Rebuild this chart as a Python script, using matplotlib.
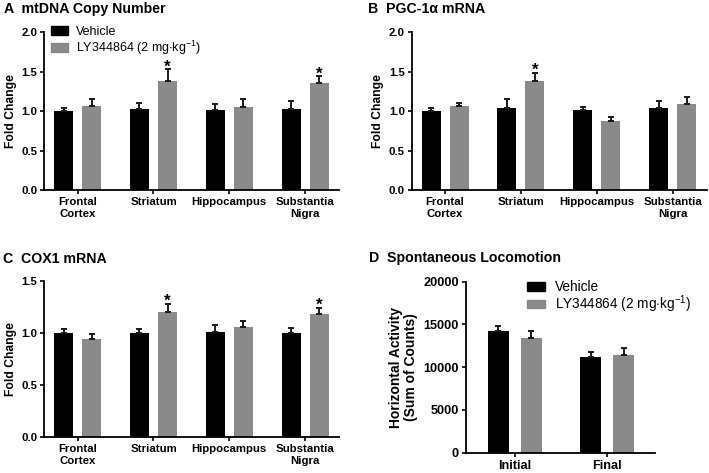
import numpy as np
import matplotlib
matplotlib.use("Agg")
import matplotlib.pyplot as plt
from matplotlib.patches import Patch

plt.rcParams['font.family'] = ['Liberation Sans', 'DejaVu Sans']
plt.rcParams['mathtext.fontset'] = 'custom'
plt.rcParams['mathtext.rm'] = 'Liberation Sans'
plt.rcParams['mathtext.it'] = 'Liberation Sans:italic'
plt.rcParams['mathtext.bf'] = 'Liberation Sans:bold'

# data
regions = ["Frontal\nCortex", "Striatum", "Hippocampus", "Substantia\nNigra"]

mtdna_veh = [1.00, 1.03, 1.015, 1.03]
mtdna_veh_err = [0.045, 0.07, 0.075, 0.095]
mtdna_ly = [1.07, 1.38, 1.05, 1.36]
mtdna_ly_err = [0.09, 0.15, 0.11, 0.08]
mtdna_sig = [False, True, False, True]

pgc_veh = [1.00, 1.035, 1.015, 1.035]
pgc_veh_err = [0.035, 0.115, 0.04, 0.10]
pgc_ly = [1.06, 1.38, 0.88, 1.09]
pgc_ly_err = [0.04, 0.105, 0.05, 0.095]
pgc_sig = [False, True, False, False]

cox_veh = [1.00, 1.00, 1.015, 1.005]
cox_veh_err = [0.035, 0.035, 0.06, 0.045]
cox_ly = [0.94, 1.20, 1.055, 1.185]
cox_ly_err = [0.05, 0.08, 0.06, 0.06]
cox_sig = [False, True, False, True]

sessions = ["Initial", "Final"]
loco_veh = [14200, 11230]
loco_veh_err = [620, 510]
loco_ly = [13450, 11380]
loco_ly_err = [820, 820]

VEH_COLOR = 'black'
LY_COLOR = '#8a8a8a'
ly_label = r"LY344864 (2 mg$\cdot$kg$^{-1}$)"

fig = plt.figure(figsize=(7.09, 4.73), dpi=100)


def style_axis(ax, tick_size):
    for s in ['top', 'right']:
        ax.spines[s].set_visible(False)
    for s in ['left', 'bottom']:
        ax.spines[s].set_linewidth(1.3)
    ax.tick_params(axis='both', direction='out', length=3, width=1.2, pad=2)
    for lab in ax.get_xticklabels() + ax.get_yticklabels():
        lab.set_fontweight('bold')
        lab.set_fontsize(tick_size)


def draw_pairs(ax, veh, veh_err, ly, ly_err, width, off):
    x = np.arange(len(veh))
    ekw = dict(ecolor='#1a1a1a', elinewidth=1.4, capsize=2.2, capthick=1.4)
    ax.bar(x - off, veh, width, color=VEH_COLOR,
           yerr=[np.zeros(len(veh)), veh_err], error_kw=ekw)
    ax.bar(x + off, ly, width, color=LY_COLOR,
           yerr=[np.zeros(len(ly)), ly_err], error_kw=ekw)
    return x


def region_panel(rect, veh, veh_err, ly, ly_err, sig, ymax, ystep):
    ax = fig.add_axes(rect)
    x = draw_pairs(ax, veh, veh_err, ly, ly_err, 0.25, 0.185)
    for i in range(len(sig)):
        if sig[i]:
            ax.annotate("*", (x[i] + 0.185, ly[i] + ly_err[i]),
                        xytext=(0, -1.5), textcoords='offset points',
                        ha='center', va='baseline', fontsize=12,
                        fontweight='bold')
    ax.set_xlim(-0.44, 3.45)
    ax.set_ylim(0, ymax)
    ax.set_yticks(np.arange(0, ymax + 0.01, ystep))
    ax.set_yticklabels(["%.1f" % v for v in np.arange(0, ymax + 0.01, ystep)])
    ax.set_xticks(x)
    ax.set_xticklabels(regions)
    ax.set_ylabel("Fold Change", fontsize=8.7, fontweight='bold', labelpad=3)
    style_axis(ax, 8.2)
    return ax


axA = region_panel([0.0625, 0.5983, 0.416, 0.3334], mtdna_veh, mtdna_veh_err,
                   mtdna_ly, mtdna_ly_err, mtdna_sig, 2.0, 0.5)
axB = region_panel([0.5807, 0.5983, 0.416, 0.3334], pgc_veh, pgc_veh_err,
                   pgc_ly, pgc_ly_err, pgc_sig, 2.0, 0.5)
axC = region_panel([0.0625, 0.0755, 0.416, 0.3304], cox_veh, cox_veh_err,
                   cox_ly, cox_ly_err, cox_sig, 1.5, 0.5)

handles = [Patch(color=VEH_COLOR), Patch(color=LY_COLOR)]
axA.legend(handles, ["Vehicle", ly_label], loc='upper left',
           bbox_to_anchor=(0.022, 1.04), frameon=False, fontsize=9,
           borderpad=0, borderaxespad=0, handlelength=1.4, handleheight=0.65,
           handletextpad=0.6, labelspacing=0.06)

# panel D
axD = fig.add_axes([0.6573, 0.0429, 0.2666, 0.3615])
xd = draw_pairs(axD, loco_veh, loco_veh_err, loco_ly, loco_ly_err, 0.23, 0.18)
axD.set_xlim(-0.53, 1.52)
axD.set_ylim(0, 20000)
axD.set_yticks([0, 5000, 10000, 15000, 20000])
axD.set_yticklabels(["0", "5000", "10000", "15000", "20000"])
axD.set_xticks(xd)
axD.set_xticklabels(sessions)
axD.set_ylabel("Horizontal Activity\n(Sum of Counts)", fontsize=10,
               fontweight='bold', labelpad=4, linespacing=1.05)
style_axis(axD, 9.2)
axD.legend(handles, ["Vehicle", ly_label], loc='upper left',
           bbox_to_anchor=(0.321, 1.01), frameon=False, fontsize=9.8,
           borderpad=0, borderaxespad=0, handlelength=1.35, handleheight=0.6,
           handletextpad=0.7, labelspacing=-0.07)

# panel titles
fig.text(0.006, 0.973, "A  mtDNA Copy Number", fontsize=10.2,
         fontweight='bold', va='baseline')
fig.text(0.5195, 0.973, "B  PGC-1\u03b1 mRNA", fontsize=10.2,
         fontweight='bold', va='baseline')
fig.text(0.004, 0.4446, "C  COX1 mRNA", fontsize=10.2,
         fontweight='bold', va='baseline')
fig.text(0.52, 0.4455, "D  Spontaneous Locomotion", fontsize=10.2,
         fontweight='bold', va='baseline')

fig.savefig("out.png", dpi=100)
